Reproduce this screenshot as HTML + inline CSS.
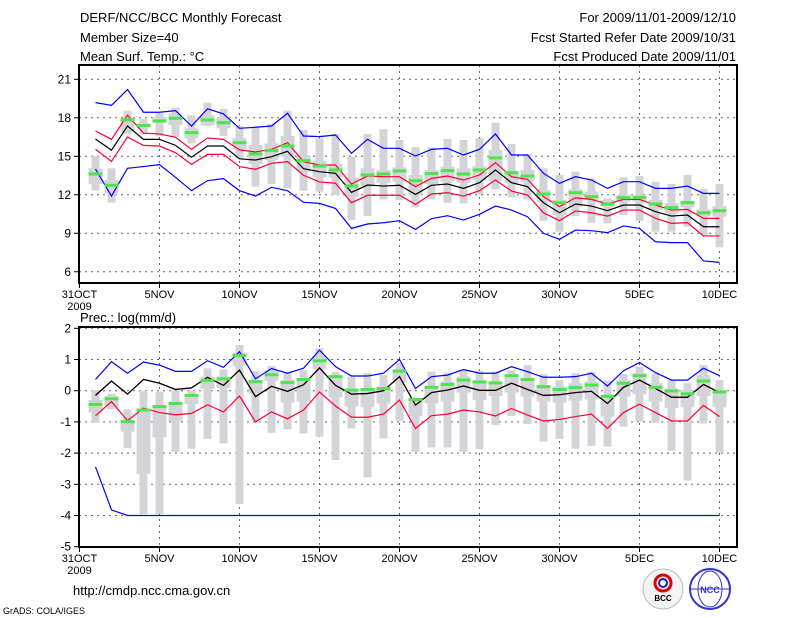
<!DOCTYPE html>
<html><head><meta charset="utf-8">
<style>
html,body{margin:0;padding:0;background:#fff;}
svg{display:block;font-family:"Liberation Sans",sans-serif;}
</style></head>
<body>
<svg id="chart" width="800" height="618" viewBox="0 0 800 618" xmlns="http://www.w3.org/2000/svg">
<g font-size="13" fill="#000">
<text x="80" y="22">DERF/NCC/BCC Monthly Forecast</text>
<text x="80" y="42">Member Size=40</text>
<text x="80" y="61">Mean Surf. Temp.: °C</text>
<text x="736" y="22" text-anchor="end">For 2009/11/01-2009/12/10</text>
<text x="736" y="42" text-anchor="end">Fcst Started Refer Date 2009/10/31</text>
<text x="736" y="61" text-anchor="end">Fcst Produced Date 2009/11/01</text>
<text x="80" y="322">Prec.: log(mm/d)</text>
</g>
<g id="top"></g>
<g id="bot"></g>
<text x="73" y="595" font-size="13">http://cmdp.ncc.cma.gov.cn</text>
<text x="3" y="614" font-size="9">GrADS: COLA/IGES</text>
<g>
<circle cx="663" cy="589" r="20" fill="#f4f4f4" stroke="#bbb"/>
<circle cx="663" cy="583" r="8" fill="none" stroke="#d00" stroke-width="3"/>
<circle cx="663" cy="583" r="4" fill="none" stroke="#22a" stroke-width="2"/>
<text x="663" y="601" font-size="8" text-anchor="middle" font-weight="bold">BCC</text>
</g>
<g>
<circle cx="710" cy="589" r="20" fill="#fff" stroke="#33c" stroke-width="2"/>
<ellipse cx="710" cy="589" rx="12" ry="18" fill="none" stroke="#33c"/>
<line x1="690" y1="589" x2="730" y2="589" stroke="#33c"/>
<text x="710" y="593" font-size="9" text-anchor="middle" fill="#33c" font-weight="bold">NCC</text>
</g>
</svg>
<script>
// ---- temperature data (days 1..40) ----
const tBlueHi=[19.18,18.97,20.2,18.43,18.43,18.56,17.36,18.7,18.3,17.18,17.26,17.36,18.35,16.58,16.53,16.66,15.23,16.32,15.62,15.62,15.02,15.54,15.62,15.1,15.54,16.74,15.1,15.1,13.67,12.89,13.41,13.15,12.5,13.02,13.02,12.5,12.5,12.68,12.11,12.11];
const tRedHi=[16.97,16.32,18.2,16.8,16.74,16.48,15.54,16.43,16.32,15.5,15.34,15.54,16.06,14.58,14.32,14.32,12.84,13.46,13.41,13.41,12.63,13.28,13.46,13.15,13.54,14.5,13.41,13.2,11.85,11.07,11.77,11.64,11.28,11.64,11.64,11.2,10.81,10.86,10.16,10.16];
const tMean=[16.35,15.47,17.36,16.32,16.32,15.85,14.92,15.8,15.8,14.8,14.71,14.97,15.39,14.03,13.8,13.67,12.19,12.76,12.68,12.74,12.03,12.74,12.84,12.5,12.94,13.93,12.94,12.63,11.38,10.6,11.28,11.12,10.76,11.2,11.2,10.68,10.34,10.42,9.51,9.51];
const tRedLo=[15.55,14.6,16.5,15.85,15.8,15.28,14.37,15.15,15.15,14.2,13.98,14.45,14.58,13.52,13.0,12.9,11.38,11.96,11.96,11.96,11.25,12.06,12.16,11.9,12.32,13.15,12.29,11.98,10.6,9.98,10.74,10.6,10.34,10.81,10.81,10.16,9.77,9.83,8.79,8.79];
const tBlueLo=[14.0,11.9,14.06,14.2,14.35,13.36,12.32,13.1,13.26,12.32,11.9,12.58,12.32,11.41,11.33,10.94,9.38,9.72,9.82,9.98,9.3,10.14,10.37,10.03,10.48,11.12,10.81,10.29,9.0,8.53,9.25,9.2,9.05,9.57,9.38,8.34,8.27,8.27,6.84,6.73];
const tWhiskHi=[15.0,14.06,18.56,17.9,18.35,18.8,18.2,19.18,18.7,17.36,17.31,17.52,18.56,17.05,16.4,16.74,14.97,16.74,17.1,16.27,15.7,15.7,16.35,16.27,16.4,17.62,15.96,15.18,14.06,13.54,13.8,13.28,11.72,13.36,13.46,13.02,12.84,13.54,12.45,12.84];
const tWhiskLo=[12.33,11.4,16.74,16.74,16.58,16.53,16.0,17.36,16.58,14.84,12.63,12.84,12.5,12.32,12.24,11.98,10.03,10.34,11.64,11.6,11.02,11.64,11.38,11.33,12.06,12.42,11.8,11.64,9.98,9.12,10.34,9.82,9.77,10.42,9.98,9.12,9.12,9.51,8.86,7.9];
const tBoxHi=[14.06,13.15,17.96,17.56,18.04,18.35,17.18,18.2,18.04,16.4,15.88,16.0,16.58,15.1,14.66,14.4,13.36,14.06,13.93,14.14,13.54,13.93,14.2,14.06,14.24,15.49,13.8,13.93,12.37,11.59,12.42,12.24,11.59,11.98,11.8,11.59,11.33,11.54,10.87,11.12];
const tBoxLo=[12.84,12.1,16.9,17.18,17.62,17.44,16.4,17.41,17.18,15.54,14.4,14.71,14.97,13.8,13.36,13.36,11.85,12.68,12.94,13.02,11.98,12.84,13.02,12.94,13.15,13.1,12.89,13.02,11.46,10.42,11.07,11.59,11.07,11.46,11.46,10.81,10.55,11.02,10.29,10.29];
const tGreen=[13.62,12.74,17.83,17.4,17.75,17.96,16.84,17.83,17.62,16.06,15.18,15.44,15.8,14.66,14.24,13.93,12.68,13.54,13.62,13.85,13.1,13.65,13.88,13.62,13.93,14.87,13.72,13.46,12.06,11.38,12.16,11.85,11.28,11.77,11.8,11.28,11.0,11.38,10.6,10.76];
// ---- precipitation data ----
const pBlueHi=[0.36,0.93,0.56,0.92,0.82,0.62,0.62,0.96,0.75,1.25,0.38,0.71,0.56,0.72,1.3,0.77,0.47,0.47,0.56,1.0,0.07,0.45,0.5,0.68,0.56,0.56,0.77,0.61,0.43,0.43,0.45,0.56,0.15,0.64,0.9,0.58,0.34,0.34,0.72,0.48];
const pMean=[-0.15,0.31,-0.11,0.36,0.24,0.04,0.09,0.43,0.17,0.66,-0.19,0.14,-0.02,0.19,0.73,0.17,-0.11,-0.09,0.0,0.45,-0.46,-0.06,0.02,0.15,0.01,0.01,0.24,0.04,-0.15,-0.13,-0.06,-0.02,-0.41,0.11,0.34,0.07,-0.21,-0.21,0.2,-0.06];
const pRedLo=[-0.8,-0.35,-0.96,-0.56,-0.7,-0.77,-0.73,-0.45,-0.68,-0.17,-1.0,-0.68,-0.9,-0.62,-0.04,-0.49,-0.85,-0.85,-0.75,-0.3,-1.21,-0.8,-0.75,-0.62,-0.68,-0.81,-0.57,-0.78,-0.97,-0.92,-0.83,-0.75,-1.21,-0.7,-0.43,-0.7,-0.97,-0.97,-0.47,-0.83];
const pBlueLo=[-2.44,-3.82,-4,-4,-4,-4,-4,-4,-4,-4,-4,-4,-4,-4,-4,-4,-4,-4,-4,-4,-4,-4,-4,-4,-4,-4,-4,-4,-4,-4,-4,-4,-4,-4,-4,-4,-4,-4,-4,-4];
const pWhiskHi=[0.02,-0.1,-0.6,0.0,-0.03,0.0,0.0,0.72,0.68,1.46,0.63,0.79,0.6,0.66,1.36,0.61,0.45,0.56,0.5,0.88,-0.3,0.61,0.58,0.68,0.64,0.61,0.66,0.82,0.53,0.34,0.56,0.61,0.32,0.53,0.77,0.56,0.34,0.24,0.82,0.34];
const pWhiskLo=[-1.03,-0.6,-1.84,-3.95,-3.95,-1.96,-1.86,-1.54,-1.69,-3.63,-0.96,-1.35,-1.24,-1.37,-1.47,-2.22,-1.21,-2.78,-1.53,-0.96,-1.96,-1.82,-1.82,-1.96,-1.88,-1.1,-0.81,-1.07,-1.63,-1.54,-1.86,-1.77,-1.79,-1.15,-0.99,-1.03,-1.92,-2.88,-1.05,-1.99];
const pBoxHi=[-0.3,-0.17,-0.94,-0.57,-0.46,-0.35,-0.14,0.45,0.45,1.22,0.34,0.66,0.34,0.4,1.11,0.47,0.07,0.07,0.13,0.66,-0.3,0.15,0.29,0.45,0.34,0.24,0.5,0.34,0.18,0.13,0.24,0.29,-0.14,0.34,0.56,0.24,0.07,0.02,0.5,0.02];
const pBoxLo=[-0.7,-0.51,-1.31,-2.67,-1.5,-0.96,-0.43,0.06,0.09,0.8,-0.09,0.32,-0.38,-0.35,0.68,-0.21,-0.51,-0.53,-0.41,0.24,-0.81,-0.41,-0.35,-0.06,-0.3,-0.17,-0.06,-0.19,-0.35,-0.38,-0.32,-0.28,-0.83,-0.19,-0.11,-0.35,-0.56,-0.53,-0.17,-0.53];
const pGreen=[-0.44,-0.26,-0.99,-0.62,-0.51,-0.41,-0.15,0.33,0.38,1.13,0.29,0.51,0.26,0.36,0.96,0.45,0.02,0.04,0.07,0.63,-0.28,0.11,0.2,0.34,0.28,0.25,0.48,0.36,0.13,0.04,0.1,0.18,-0.18,0.24,0.48,0.11,-0.01,-0.1,0.31,-0.04];
const xLabels=["31OCT","5NOV","10NOV","15NOV","20NOV","25NOV","30NOV","5DEC","10DEC"];
const tTicks=[6,9,12,15,18,21];
const pTicks=[-5,-4,-3,-2,-1,0,1,2];

const NS="http://www.w3.org/2000/svg";
const X0=79.5,DX=16,XL=79,XR=737;
const xs=d=>X0+d*DX;
function mk(parent,tag,attrs){const e=document.createElementNS(NS,tag);for(const k in attrs)e.setAttribute(k,attrs[k]);parent.appendChild(e);return e;}

function panel(g,top,bot,ys,ticks,whHi,whLo,bxHi,bxLo,grn,lines){
  // grid
  ticks.forEach(v=>{const y=ys(v);
    if(y>top+1&&y<bot-1){const l=mk(g,'line',{x1:XL,x2:XR,y1:y,y2:y,stroke:'#666','stroke-dasharray':'2,4','stroke-width':1});
    
    }
    const tk=mk(g,'line',{x1:XL-5,x2:XL,y1:y,y2:y,stroke:'#000'});
    
    
    const t=mk(g,'text',{x:XL-8,y:y+4,'font-size':12,'text-anchor':'end'});t.textContent=v;
    
    
  });
  xLabels.forEach((s,i)=>{const x=xs(i*5);
    if(i>0){const l=mk(g,'line',{x1:x,x2:x,y1:top,y2:bot,stroke:'#666','stroke-dasharray':'2,4'});
    
    }
    const tk=mk(g,'line',{x1:x,x2:x,y1:bot,y2:bot+5,stroke:'#000'});
    
    
    const t=mk(g,'text',{x:x,y:bot+15,'font-size':11,'text-anchor':'middle'});t.textContent=s;
    
    
  });
  const yr=mk(g,'text',{x:xs(0),y:bot+27,'font-size':11,'text-anchor':'middle'});yr.textContent='2009';
  
  
  // boxes
  for(let i=0;i<whHi.length;i++){const x=xs(i+1);
    const w=mk(g,'rect',{x:x-4,y:ys(whHi[i]),width:8,height:ys(whLo[i])-ys(whHi[i]),fill:'#d3d4d8'});
    
    
    const b=mk(g,'rect',{x:x-7,y:ys(bxHi[i]),width:14,height:ys(bxLo[i])-ys(bxHi[i]),fill:'#d3d4d8'});
    
    
  }
  lines.forEach(([arr,col,name])=>{
    const pts=arr.map((v,i)=>xs(i+1)+','+ys(v)).join(' ');
    const p=mk(g,'polyline',{points:pts,fill:'none',stroke:col,'stroke-width':1.2});
    
    
  });
  for(let i=0;i<grn.length;i++){const x=xs(i+1);
    const r=mk(g,'rect',{x:x-7,y:ys(grn[i])-1.5,width:14,height:3,fill:'#4ee44e'});
    
    
  }
  const fr=mk(g,'rect',{x:XL,y:top,width:XR-XL,height:bot-top,fill:'none',stroke:'#000','stroke-width':2});
  
  
}
const ysT=v=>79.3+(21-v)*12.83;
const ysP=v=>390.7-v*31.2;
panel(document.getElementById('top'),65,283,ysT,tTicks,tWhiskHi,tWhiskLo,tBoxHi,tBoxLo,tGreen,
 [[tBlueHi,'#0000ff','temp-max-line'],[tBlueLo,'#0000ff','temp-min-line'],[tRedHi,'#ff0033','temp-upper-line'],[tRedLo,'#ff0033','temp-lower-line'],[tMean,'#000','temp-mean-line']]);
const pRedHi=pMean.map(v=>v);
panel(document.getElementById('bot'),327,547,ysP,pTicks,pWhiskHi,pWhiskLo,pBoxHi,pBoxLo,pGreen,
 [[pBlueHi,'#0000ff','prec-max-line'],[pBlueLo,'#0000ff','prec-min-line'],[pRedHi,'#ff0033','prec-upper-line'],[pRedLo,'#ff0033','prec-lower-line'],[pMean,'#000','prec-mean-line']]);
</script>
</body></html>
